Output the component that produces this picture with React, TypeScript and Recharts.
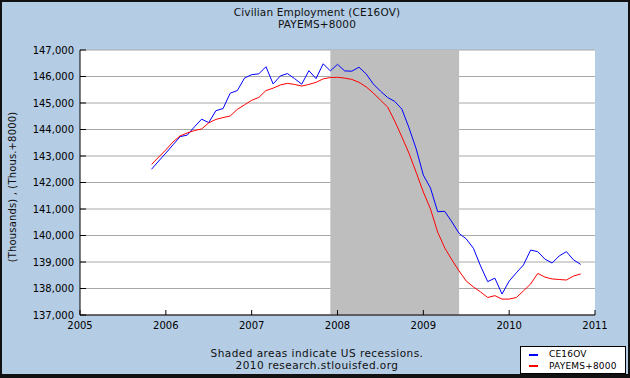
import {
  ComposedChart,
  Line,
  XAxis,
  YAxis,
  CartesianGrid,
  ReferenceArea,
  Legend,
} from "recharts";

// monthly, Nov 2005 .. Nov 2010
const startYear = 2005;
const startMonth = 10; // 0-based, November

const ce16ov = [
  142500, 142810, 143110, 143420, 143730, 143790, 144100, 144390, 144260, 144710,
  144790, 145370, 145470, 145940, 146070, 146100, 146370, 145720, 146020, 146110,
  145920, 145710, 146220, 145920, 146480, 146210, 146460, 146210, 146200, 146350,
  146100, 145720, 145450, 145210, 145060, 144770, 144060, 143270, 142280, 141790,
  140900, 140910, 140510, 140080, 139870, 139520, 138850, 138260, 138390, 137790,
  138280, 138590, 138890, 139450, 139390, 139110, 138960, 139230, 139390, 139080,
  138910,
];

const payems8000 = [
  142680, 142960, 143230, 143530, 143760, 143870, 143960, 144020, 144250, 144380,
  144450, 144510, 144760, 144930, 145100, 145210, 145470, 145560, 145680, 145740,
  145700, 145640, 145700, 145780, 145910, 145960, 145970, 145940, 145890, 145780,
  145610, 145380, 145110, 144850, 144320, 143720, 143100, 142380, 141640, 141000,
  140130, 139530, 139080, 138660, 138280, 138060, 137870, 137660, 137730, 137600,
  137600, 137660, 137910, 138170, 138570, 138430, 138360, 138340, 138320, 138470,
  138550,
];

const yearTicks = [2005, 2006, 2007, 2008, 2009, 2010, 2011];
const valueTicks = [
  137000, 138000, 139000, 140000, 141000, 142000, 143000, 144000, 145000, 146000, 147000,
];

// recession Dec 2007 - Jun 2009
const recessionStart = 2007 + 11 / 12;
const recessionEnd = 2009 + 5 / 12;

const data = ce16ov.map((v, i) => ({
  date: startYear + (startMonth + i) / 12,
  ce16ov: v,
  payems: payems8000[i],
}));

const font = "'DejaVu Sans', Verdana, sans-serif";

const LegendBox = ({ payload }: any) => (
  <div
    style={{
      background: "#fff",
      border: "1px solid #000",
      width: 106,
      height: 28,
      boxSizing: "border-box",
      padding: "2px 0 0 8px",
      fontFamily: font,
      fontSize: 9,
      lineHeight: "11.5px",
      color: "#000",
      letterSpacing: 0.2,
    }}
  >
    {(payload || []).map((p: any) => (
      <div key={p.value} style={{ display: "flex", alignItems: "center" }}>
        <span
          style={{
            display: "inline-block",
            width: 9,
            height: 2,
            background: p.color,
            marginRight: 11,
          }}
        />
        {p.value}
      </div>
    ))}
  </div>
);

export default function App() {
  return (
    <div
      style={{
        position: "absolute",
        left: 0,
        top: 0,
        width: 630,
        height: 378,
        background: "#b4cce4",
        fontFamily: font,
      }}
    >
      <div
        style={{
          position: "absolute",
          top: 5.5,
          left: 0,
          width: 634,
          textAlign: "center",
          fontSize: 10.5,
          letterSpacing: 0.15,
          lineHeight: "12.3px",
          color: "#111",
        }}
      >
        Civilian Employment (CE16OV)
        <br />
        PAYEMS+8000
      </div>

      <div
        style={{
          position: "absolute",
          left: 12,
          top: 187,
          transform: "translate(-50%, -50%) rotate(-90deg)",
          whiteSpace: "nowrap",
          fontSize: 10,
          letterSpacing: 0.15,
          color: "#111",
        }}
      >
        (Thousands) , (Thous.+8000)
      </div>

      <ComposedChart
        width={630}
        height={378}
        data={data}
        margin={{ top: 50, right: 35, bottom: 33, left: 0 }}
        style={{ position: "absolute", left: 0, top: 0 }}
      >
        <CartesianGrid
          vertical={false}
          stroke="#a8a8a8"
          fill="#ffffff"
          fillOpacity={1}
        />
        <ReferenceArea
          x1={recessionStart}
          x2={recessionEnd}
          y1={137000}
          y2={147000}
          fill="#bebebe"
          fillOpacity={1}
          stroke="none"
        />
        <XAxis
          dataKey="date"
          type="number"
          domain={[2005, 2011]}
          ticks={yearTicks}
          allowDataOverflow
          height={30}
          stroke="#000"
          tickSize={-5}
          tickMargin={12}
          tick={{ fill: "#000", fontSize: 10, fontFamily: font }}
        />
        <YAxis
          domain={[137000, 147000]}
          ticks={valueTicks}
          width={80}
          allowDataOverflow
          stroke="#000"
          tickSize={-6}
          tickMargin={12}
          tickFormatter={(v) => v.toLocaleString("en-US")}
          tick={{ fill: "#000", fontSize: 10, fontFamily: font }}
        />
        <Line
          type="linear"
          dataKey="ce16ov"
          name="CE16OV"
          stroke="#0000ff"
          strokeWidth={1}
          dot={false}
          isAnimationActive={false}
        />
        <Line
          type="linear"
          dataKey="payems"
          name="PAYEMS+8000"
          stroke="#ff0000"
          strokeWidth={1}
          dot={false}
          isAnimationActive={false}
        />
        <Legend
          layout="horizontal"
          verticalAlign="middle"
          align="center"
          content={<LegendBox />}
          wrapperStyle={{ position: "absolute", left: 520, top: 346, width: 106, height: 28 }}
        />
      </ComposedChart>

      <div
        style={{
          position: "absolute",
          top: 346.7,
          left: 0,
          width: 634,
          textAlign: "center",
          fontSize: 10.5,
          letterSpacing: 0.45,
          lineHeight: "12px",
          color: "#111",
        }}
      >
        Shaded areas indicate US recessions.
        <br />
        2010 research.stlouisfed.org
      </div>

      <div
        style={{
          position: "absolute",
          left: 0,
          top: 0,
          width: 630,
          height: 378,
          boxSizing: "border-box",
          borderStyle: "solid",
          borderColor: "#111",
          borderWidth: "2px 2px 4px 2px",
          pointerEvents: "none",
        }}
      />
    </div>
  );
}
